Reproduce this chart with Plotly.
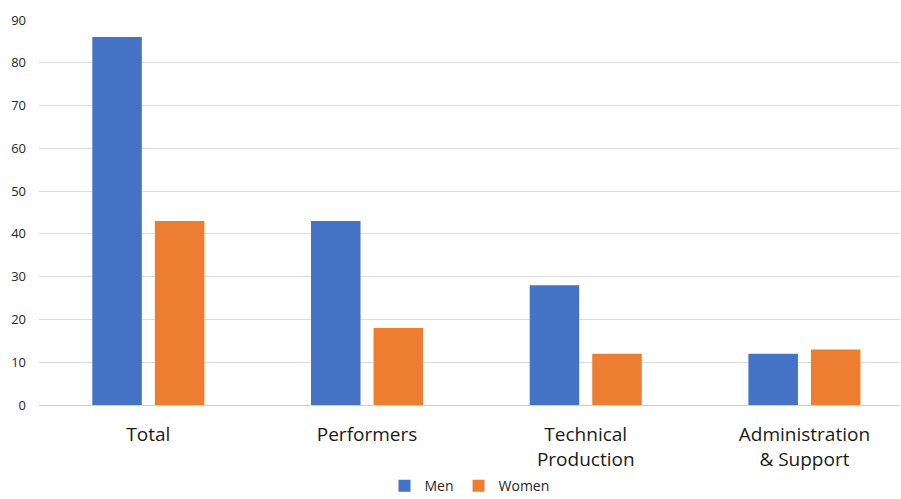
import plotly.graph_objects as go

categories = ["Total", "Performers", "Technical<br>Production", "Administration<br>& Support"]
men = [86, 43, 28, 12]
women = [43, 18, 12, 13]
y_ticks = [0, 10, 20, 30, 40, 50, 60, 70, 80, 90]

font_family = "Open Sans, Lato, sans-serif"

fig = go.Figure()
fig.add_trace(go.Bar(name="Men", x=categories, y=men, marker=dict(color="#4472C4", line=dict(width=0))))
fig.add_trace(go.Bar(name="Women", x=categories, y=women, marker=dict(color="#ED7D31", line=dict(width=0))))

fig.update_layout(
    width=901, height=499,
    margin=dict(l=39, r=1, t=19.5, b=94, autoexpand=False),
    paper_bgcolor="white", plot_bgcolor="white",
    barmode="group", bargap=0.428, bargroupgap=0.208,
    font=dict(family=font_family, color="#262626"),
    legend=dict(orientation="h", x=0.5, xanchor="center", yref="container", y=0.026, yanchor="middle",
                font=dict(size=14, color="#262626"), itemwidth=30, traceorder="normal",
                tracegroupgap=0),
    showlegend=True,
)
fig.update_xaxes(range=[-0.5, 3.437], showgrid=False, showline=False, ticks="",
                 tickfont=dict(size=19, color="#1a1a1a"), ticklabelstandoff=16,
                 automargin=False, fixedrange=True)
fig.update_yaxes(range=[0, 90], tickvals=y_ticks, showgrid=True, gridcolor="#dcdcdc", gridwidth=1,
                 zeroline=True, zerolinecolor="#cfcfcf", zerolinewidth=1, automargin=False,
                 tickfont=dict(size=13, color="#262626"), ticklabelstandoff=12, showline=False)

fig.write_html("out.html")
